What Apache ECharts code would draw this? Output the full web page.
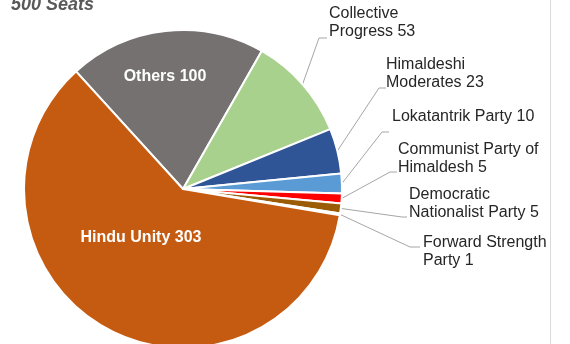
<!DOCTYPE html>
<html>
<head>
<meta charset="utf-8">
<script src="https://cdn.jsdelivr.net/npm/echarts@6/dist/echarts.min.js"></script>
<style>
html,body{margin:0;padding:0;background:#fff;}
#c{width:570px;height:344px;}
</style>
</head>
<body>
<div id="c"></div>
<script>
// Data (order: clockwise from the Others slice)
var categories = [
  "Others",
  "Collective\nProgress",
  "Himaldeshi\nModerates",
  "Lokatantrik Party",
  "Communist Party of\nHimaldesh",
  "Democratic\nNationalist Party",
  "Forward Strength\nParty",
  "Hindu Unity"
];
var seats = [100, 53, 23, 10, 5, 5, 1, 303];
var colors = ["#767171", "#A9D18E", "#2F5597", "#5B9BD5", "#FF0000", "#9C5B05", "#FBE5D6", "#C55A11"];
var titleText = "500 Seats";

// label placement (layout only)
var insideLabelPos = { 0: [165, 77], 7: [141, 238] };
var outsideLabelPos = {
  1: { x: 329, y: 5,   elbow: [319, 38],  end: [327, 38] },
  2: { x: 386, y: 56,  elbow: [379, 88],  end: [386, 88] },
  3: { x: 392, y: 108, elbow: [382, 132], end: [389, 132] },
  4: { x: 398, y: 141, elbow: [390, 172], end: [397, 172] },
  5: { x: 409, y: 186, elbow: [402, 217], end: [407, 217] },
  6: { x: 423, y: 234, elbow: [410, 247], end: [420, 247] }
};

var dataItems = categories.map(function (name, i) {
  var item = { name: name, value: seats[i], itemStyle: { color: colors[i] } };
  if (insideLabelPos[i]) {
    item.label = { position: 'inside', color: '#ffffff', fontWeight: 'bold', fontSize: 16 };
    item.labelLine = { show: false };
  }
  return item;
});

var chart = echarts.init(document.getElementById('c'), null, { renderer: 'canvas' });
chart.setOption({
  animation: false,
  backgroundColor: '#ffffff',
  graphic: [
    {
      type: 'text', x: 11, y: -4,
      style: { text: titleText, font: 'italic bold 18px "Liberation Sans", Arial, sans-serif', fill: '#595959' }
    },
    {
      type: 'line',
      shape: { x1: 550.5, y1: 0, x2: 550.5, y2: 344 },
      style: { stroke: '#d9d9d9', lineWidth: 1 }
    }
  ],
  series: [{
    type: 'pie',
    center: [183, 189],
    radius: 159,
    startAngle: 132.3,
    clockwise: true,
    avoidLabelOverlap: false,
    itemStyle: { borderColor: '#ffffff', borderWidth: 2 },
    label: {
      show: true,
      position: 'outside',
      formatter: '{b} {c}',
      fontFamily: '"Liberation Sans", Arial, sans-serif',
      fontSize: 16,
      lineHeight: 18,
      color: '#262626'
    },
    labelLine: { show: true, length: 10, length2: 10, lineStyle: { color: '#a6a6a6', width: 1 } },
    emphasis: { disabled: true },
    labelLayout: function (p) {
      var i = p.dataIndex;
      if (insideLabelPos[i]) {
        return { x: insideLabelPos[i][0], y: insideLabelPos[i][1], align: 'center', verticalAlign: 'middle' };
      }
      var o = outsideLabelPos[i];
      if (!o) return {};
      var start = p.labelLinePoints ? p.labelLinePoints[0] : o.elbow;
      return {
        x: o.x, y: o.y, align: 'left', verticalAlign: 'top',
        labelLinePoints: [start, o.elbow, o.end]
      };
    },
    data: dataItems
  }]
});
</script>
</body>
</html>
